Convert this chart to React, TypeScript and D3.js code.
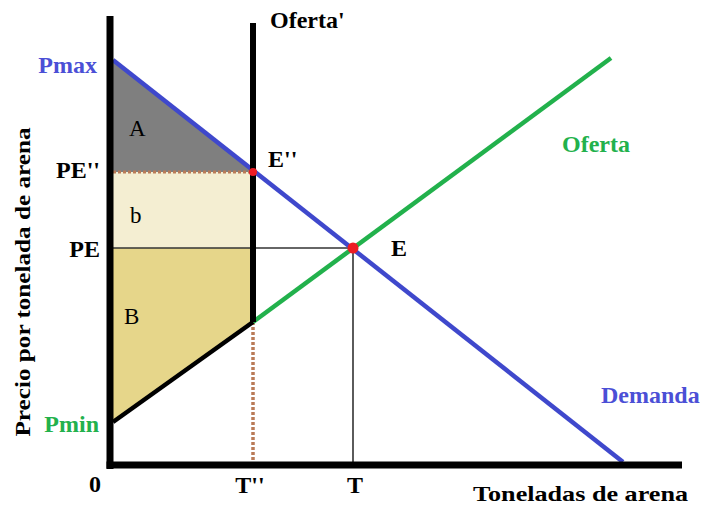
import React from "react";
import * as d3 from "d3";

// Quantities (tons of sand) and prices
const demandQ = [0, 25.5];
const demandP = [20.1, 0];
const supplyQ = [0, 7, 24.9];
const supplyP = [2, 7, 20.2];
const capQ = 7; // T''
const capTop = 21.95; // top of Oferta' line
const eqQ = 12; // T
const eqP = 10.7; // PE
const capP = 14.5; // PE''
const axisMaxQ = 28.45;
const axisMaxP = 22.3;

const W = 701;
const H = 506;

const x = d3.scaleLinear().domain([0, 28.5]).range([113, 683]);
const y = d3.scaleLinear().domain([0, 22.3]).range([462, 16]);

const BLUE = "#3f48cc";
const BLUE_T = "#4b4fd6";
const GREEN = "#22b14c";
const BROWN = "#b97a57";
const RED = "#ed1c24";
const FONT = "'Liberation Serif', 'Times New Roman', serif";

export default function App() {
  const line = d3
    .line<[number, number]>()
    .x((d) => x(d[0]))
    .y((d) => y(d[1]));

  const demandPts: [number, number][] = demandQ.map((q, i) => [q, demandP[i]]);
  const supplyPts: [number, number][] = supplyQ.map((q, i) => [q, supplyP[i]]);
  const lowerSupply = supplyPts.slice(0, 2);
  const upperSupply = supplyPts.slice(1);

  const demandAt = (q: number) =>
    demandP[0] + ((demandP[1] - demandP[0]) * (q - demandQ[0])) / (demandQ[1] - demandQ[0]);

  const areaA: [number, number][] = [
    [0, demandP[0]],
    [capQ, demandAt(capQ)],
    [capQ, capP],
    [0, capP],
  ];
  const areaSmallB: [number, number][] = [
    [0, capP],
    [capQ, capP],
    [capQ, eqP],
    [0, eqP],
  ];
  const areaB: [number, number][] = [
    [0, eqP],
    [capQ, eqP],
    [capQ, supplyP[1]],
    [0, supplyP[0]],
  ];

  const bold = { fontFamily: FONT, fontWeight: 700, fontSize: 24 } as const;
  const reg = { fontFamily: FONT, fontWeight: 400, fontSize: 23 } as const;

  return (
    <svg width={W} height={H} style={{ position: "absolute", left: 0, top: 0 }}>
      <rect width={W} height={H} fill="#fff" />
      {/* areas */}
      <path d={line(areaA) + "Z"} fill="#7f7f7f" />
      <path d={line(areaSmallB) + "Z"} fill="#f4eed2" />
      <path d={line(areaB) + "Z"} fill="#e6d68a" />

      {/* dotted guides */}
      <line x1={x(0)} x2={x(capQ) - 2} y1={y(capP)} y2={y(capP)} stroke={BROWN} strokeWidth={3} strokeDasharray="3,2" />
      <line x1={x(capQ)} x2={x(capQ)} y1={y(supplyP[1])} y2={y(0)} stroke={BROWN} strokeWidth={3.5} strokeDasharray="3,2" />

      {/* equilibrium guides */}
      <line x1={x(0)} x2={x(eqQ)} y1={y(eqP)} y2={y(eqP)} stroke="#333" strokeWidth={1.6} />
      <line x1={x(eqQ)} x2={x(eqQ)} y1={y(eqP)} y2={y(0)} stroke="#333" strokeWidth={1.6} />

      {/* curves */}
      <path d={line(demandPts) ?? ""} fill="none" stroke={BLUE} strokeWidth={4.5} />
      <path d={line(upperSupply) ?? ""} fill="none" stroke={GREEN} strokeWidth={4.5} />
      <path d={line(lowerSupply) ?? ""} fill="none" stroke="#000" strokeWidth={4.5} />

      {/* Oferta' vertical */}
      <line x1={x(capQ)} x2={x(capQ)} y1={y(capTop)} y2={y(supplyP[1])} stroke="#000" strokeWidth={6} />

      {/* axes */}
      <line x1={x(0) - 3} x2={x(0) - 3} y1={y(axisMaxP)} y2={y(0) + 7} stroke="#000" strokeWidth={7} />
      <line x1={x(0) - 6.5} x2={x(axisMaxQ)} y1={y(0) + 3} y2={y(0) + 3} stroke="#000" strokeWidth={7} />

      {/* points */}
      <circle cx={x(capQ)} cy={y(capP)} r={4} fill={RED} />
      <circle cx={x(eqQ)} cy={y(eqP)} r={5.5} fill={RED} />

      {/* price labels */}
      <text x={x(0) - 16} y={y(demandP[0]) + 13} textAnchor="end" fill={BLUE_T} {...bold}>Pmax</text>
      <text x={x(0) - 13} y={y(capP) + 6} textAnchor="end" fill="#000" {...bold}>PE''</text>
      <text x={x(0) - 13} y={y(eqP) + 9} textAnchor="end" fill="#000" {...bold}>PE</text>
      <text x={x(0) - 14} y={y(supplyP[0]) + 10} textAnchor="end" fill={GREEN} {...bold}>Pmin</text>

      {/* quantity labels */}
      <text x={x(0) - 18} y={492} textAnchor="middle" fill="#000" {...bold}>0</text>
      <text x={x(capQ) - 3} y={493} textAnchor="middle" fill="#000" {...bold}>T''</text>
      <text x={x(eqQ) + 2} y={493} textAnchor="middle" fill="#000" {...bold}>T</text>

      {/* axis titles */}
      <text x={473} y={501} fill="#000" {...bold} fontSize={22} textLength={215} lengthAdjust="spacingAndGlyphs">Toneladas de arena</text>
      <text
        transform={`translate(30, 282) rotate(-90)`}
        textAnchor="middle"
        fill="#000"
        {...bold}
        fontSize={22}
        textLength={309}
        lengthAdjust="spacingAndGlyphs"
      >
        Precio por tonelada de arena
      </text>

      {/* curve labels */}
      <text x={270} y={28} fill="#000" {...bold}>Oferta'</text>
      <text x={562} y={152} fill={GREEN} {...bold}>Oferta</text>
      <text x={601} y={403} fill={BLUE_T} {...bold}>Demanda</text>
      <text x={x(capQ) + 15} y={y(capP) - 5} fill="#000" {...bold}>E''</text>
      <text x={x(eqQ) + 38} y={y(eqP) + 8} fill="#000" {...bold}>E</text>

      {/* area labels */}
      <text x={129} y={136} fill="#000" {...reg}>A</text>
      <text x={130} y={223} fill="#000" {...reg}>b</text>
      <text x={124} y={324} fill="#000" {...reg}>B</text>
    </svg>
  );
}
